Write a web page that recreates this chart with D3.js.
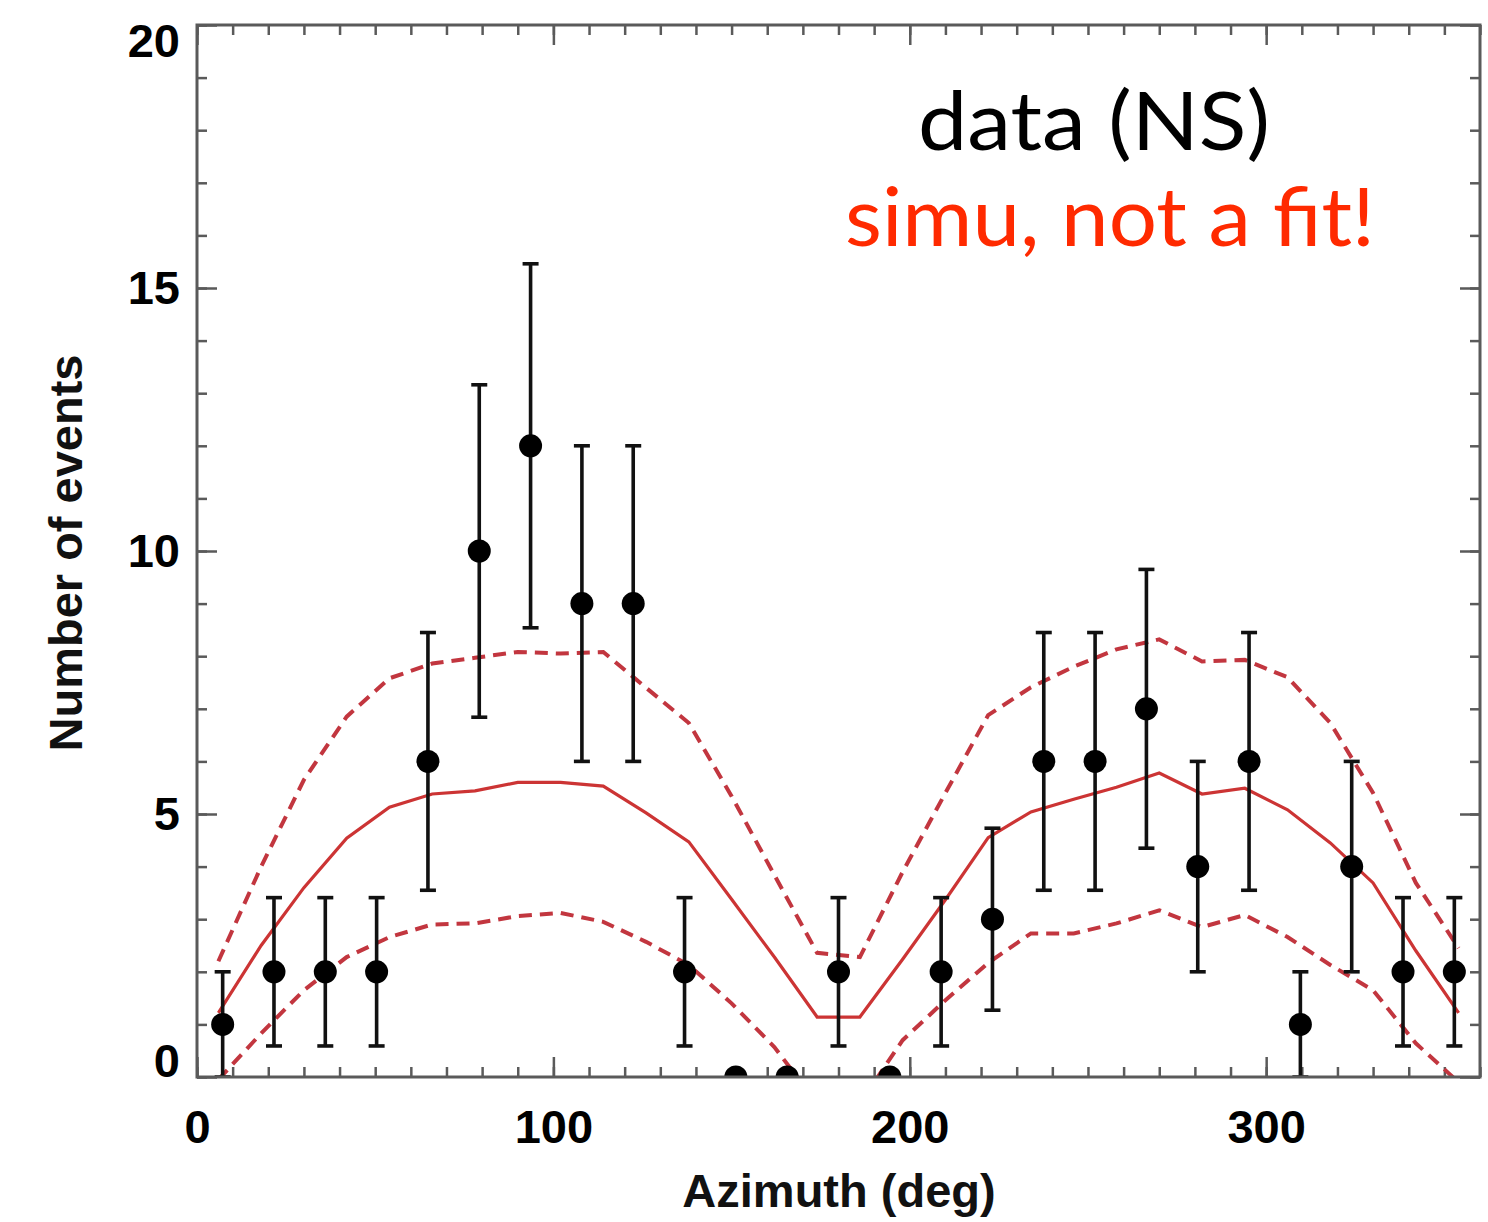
<!DOCTYPE html>
<html>
<head>
<meta charset="utf-8">
<script src="https://cdn.jsdelivr.net/npm/d3@7"></script>
<style>
  html, body { margin: 0; padding: 0; background: #fff; }
  svg { display: block; }
</style>
</head>
<body>
<svg id="chart" width="1488" height="1222"></svg>
<script>
// ---- data ----
// observed histogram: bin centres (deg), counts, Poisson errors
const binCenters = [7.2, 21.6, 36.0, 50.4, 64.8, 79.2, 93.6, 108.0, 122.4, 136.8, 151.2, 165.6, 180.0,
                    194.4, 208.8, 223.2, 237.6, 252.0, 266.4, 280.8, 295.2, 309.6, 324.0, 338.4, 352.8];
const counts     = [1, 2, 2, 2, 6, 10, 12, 9, 9, 2, 0, 0, 2, 0, 2, 3, 6, 6, 7, 4, 6, 1, 4, 2, 2];
const errors     = [1, 1.41, 1.41, 1.41, 2.45, 3.16, 3.46, 3, 3, 1.41, 0, 0, 1.41, 0, 1.41, 1.73,
                    2.45, 2.45, 2.65, 2, 2.45, 1, 2, 1.41, 1.41];

// simulation curves (mean and +/- band)
const simuAz    = [6, 18, 30, 42, 54, 66, 78, 90, 102, 114, 126, 138, 150, 162, 174,
                   186, 198, 210, 222, 234, 246, 258, 270, 282, 294, 306, 318, 330, 342, 354];
const simuMean  = [1.22, 2.5, 3.6, 4.54, 5.13, 5.38, 5.44, 5.6, 5.6, 5.53, 5.02, 4.47, 3.38, 2.28, 1.14,
                   1.14, 2.24, 3.37, 4.55, 5.04, 5.28, 5.51, 5.78, 5.38, 5.49, 5.08, 4.45, 3.69, 2.4, 1.22];
const simuUpper = [2.2, 4.0, 5.65, 6.85, 7.58, 7.86, 7.97, 8.08, 8.05, 8.08, 7.4, 6.73, 5.34, 3.84, 2.36,
                   2.28, 3.9, 5.4, 6.88, 7.41, 7.8, 8.13, 8.32, 7.9, 7.93, 7.6, 6.73, 5.4, 3.69, 2.45];
const simuLower = [-0.05, 0.83, 1.65, 2.28, 2.66, 2.9, 2.92, 3.06, 3.12, 2.95, 2.57, 2.13, 1.4, 0.57, -0.5,
                   -0.5, 0.7, 1.46, 2.17, 2.73, 2.73, 2.92, 3.17, 2.85, 3.08, 2.66, 2.13, 1.65, 0.64, -0.1];

const xMajorTicks = [0, 100, 200, 300];
const xMinorTicks = d3.range(0, 361, 10);
const yMajorTicks = [0, 5, 10, 15, 20];
const yMinorTicks = d3.range(0, 21, 1);

const xTitle = "Azimuth (deg)";
const yTitle = "Number of events";
const note1 = "data (NS)";
const note2 = "simu, not a fit!";

// ---- layout ----
const svg = d3.select("#chart");
const L = 197, R = 1480, T = 25, B = 1077;
const x = d3.scaleLinear().domain([0, 360]).range([L, R]);
const y = d3.scaleLinear().domain([0, 20]).range([B, T]);

const frameColor = "#5a5a5a";
const labelFont = "'Liberation Sans', Arial, sans-serif";

svg.append("defs").append("clipPath").attr("id", "plotclip")
  .append("rect").attr("x", L).attr("y", T).attr("width", R - L).attr("height", B - T);

// ---- axes (ticks inside on all four sides) ----
function styleAxis(g) {
  g.select(".domain").remove();
  g.selectAll(".tick line").attr("stroke", frameColor).attr("stroke-width", 2.5);
}
// bottom
svg.append("g").attr("transform", `translate(0,${B})`)
  .call(d3.axisBottom(x).tickValues(xMinorTicks).tickSize(-10).tickFormat(""))
  .call(styleAxis);
const xb = svg.append("g").attr("transform", `translate(0,${B})`)
  .call(d3.axisBottom(x).tickValues(xMajorTicks).tickSize(-20).tickPadding(30).tickFormat(d3.format("d")))
  .call(styleAxis);
xb.selectAll(".tick text").attr("font-family", labelFont).attr("font-weight", "bold")
  .attr("font-size", 47).attr("fill", "#000").attr("dy", "0.71em").attr("y", 33);
// top
svg.append("g").attr("transform", `translate(0,${T})`)
  .call(d3.axisTop(x).tickValues(xMinorTicks).tickSize(-10).tickFormat(""))
  .call(styleAxis);
svg.append("g").attr("transform", `translate(0,${T})`)
  .call(d3.axisTop(x).tickValues(xMajorTicks).tickSize(-20).tickFormat(""))
  .call(styleAxis);
// left
svg.append("g").attr("transform", `translate(${L},0)`)
  .call(d3.axisLeft(y).tickValues(yMinorTicks).tickSize(-10).tickFormat(""))
  .call(styleAxis);
const yl = svg.append("g").attr("transform", `translate(${L},0)`)
  .call(d3.axisLeft(y).tickValues(yMajorTicks).tickSize(-20).tickFormat(d3.format("d")))
  .call(styleAxis);
yl.selectAll(".tick text").attr("font-family", labelFont).attr("font-weight", "bold")
  .attr("font-size", 47).attr("fill", "#000").attr("x", -17)
  .attr("dy", d => d === 0 ? "-0.02em" : (d === 20 ? "0.66em" : "0.34em"));
// right
svg.append("g").attr("transform", `translate(${R},0)`)
  .call(d3.axisRight(y).tickValues(yMinorTicks).tickSize(-10).tickFormat(""))
  .call(styleAxis);
svg.append("g").attr("transform", `translate(${R},0)`)
  .call(d3.axisRight(y).tickValues(yMajorTicks).tickSize(-20).tickFormat(""))
  .call(styleAxis);

// ---- plot content ----
const plot = svg.append("g").attr("clip-path", "url(#plotclip)");
const simuColor = "#cc3434";
const bandColor = "#c2363f";
const lineGen = vals => d3.line().x((d, i) => x(simuAz[i])).y(d => y(d))(vals);

plot.append("path").attr("d", lineGen(simuUpper)).attr("fill", "none")
  .attr("stroke", bandColor).attr("stroke-width", 4).attr("stroke-dasharray", "13,8");
plot.append("path").attr("d", lineGen(simuLower)).attr("fill", "none")
  .attr("stroke", bandColor).attr("stroke-width", 4).attr("stroke-dasharray", "13,8");
plot.append("path").attr("d", lineGen(simuMean)).attr("fill", "none")
  .attr("stroke", simuColor).attr("stroke-width", 3.2);

// error bars
const pts = binCenters.map((c, i) => ({ c, n: counts[i], e: errors[i] }));
const eb = plot.append("g").attr("stroke", "#111").attr("stroke-width", 3.6);
pts.filter(d => d.e > 0).forEach(d => {
  eb.append("line").attr("x1", x(d.c)).attr("x2", x(d.c))
    .attr("y1", y(d.n - d.e)).attr("y2", y(d.n + d.e));
  [d.n - d.e, d.n + d.e].forEach(v => {
    eb.append("line").attr("x1", x(d.c) - 8).attr("x2", x(d.c) + 8)
      .attr("y1", y(v)).attr("y2", y(v));
  });
});
plot.append("g").selectAll("circle").data(pts).join("circle")
  .attr("cx", d => x(d.c)).attr("cy", d => y(d.n)).attr("r", 11.5).attr("fill", "#000");

// frame
svg.append("rect").attr("x", L).attr("y", T).attr("width", R - L).attr("height", B - T)
  .attr("fill", "none").attr("stroke", frameColor).attr("stroke-width", 3);

// ---- titles ----
svg.append("text").attr("x", 839).attr("y", 1207).attr("text-anchor", "middle")
  .attr("font-family", labelFont).attr("font-weight", "bold").attr("font-size", 47)
  .attr("fill", "#111").text(xTitle);
svg.append("text").attr("transform", "translate(82,553) rotate(-90)").attr("text-anchor", "middle")
  .attr("font-family", labelFont).attr("font-weight", "bold").attr("font-size", 47)
  .attr("fill", "#111").text(yTitle);

// ---- annotations ----
svg.append("text").attr("x", 1094).attr("y", 150).attr("text-anchor", "middle")
  .attr("font-family", "Lato, 'Open Sans', sans-serif").attr("font-size", 82)
  .attr("fill", "#000").attr("textLength", 352).attr("lengthAdjust", "spacingAndGlyphs").text(note1);
svg.append("text").attr("x", 1110).attr("y", 246).attr("text-anchor", "middle")
  .attr("font-family", "Lato, 'Open Sans', sans-serif").attr("font-size", 82)
  .attr("fill", "#ff2a00").attr("textLength", 530).attr("lengthAdjust", "spacingAndGlyphs").text(note2);
</script>
</body>
</html>
